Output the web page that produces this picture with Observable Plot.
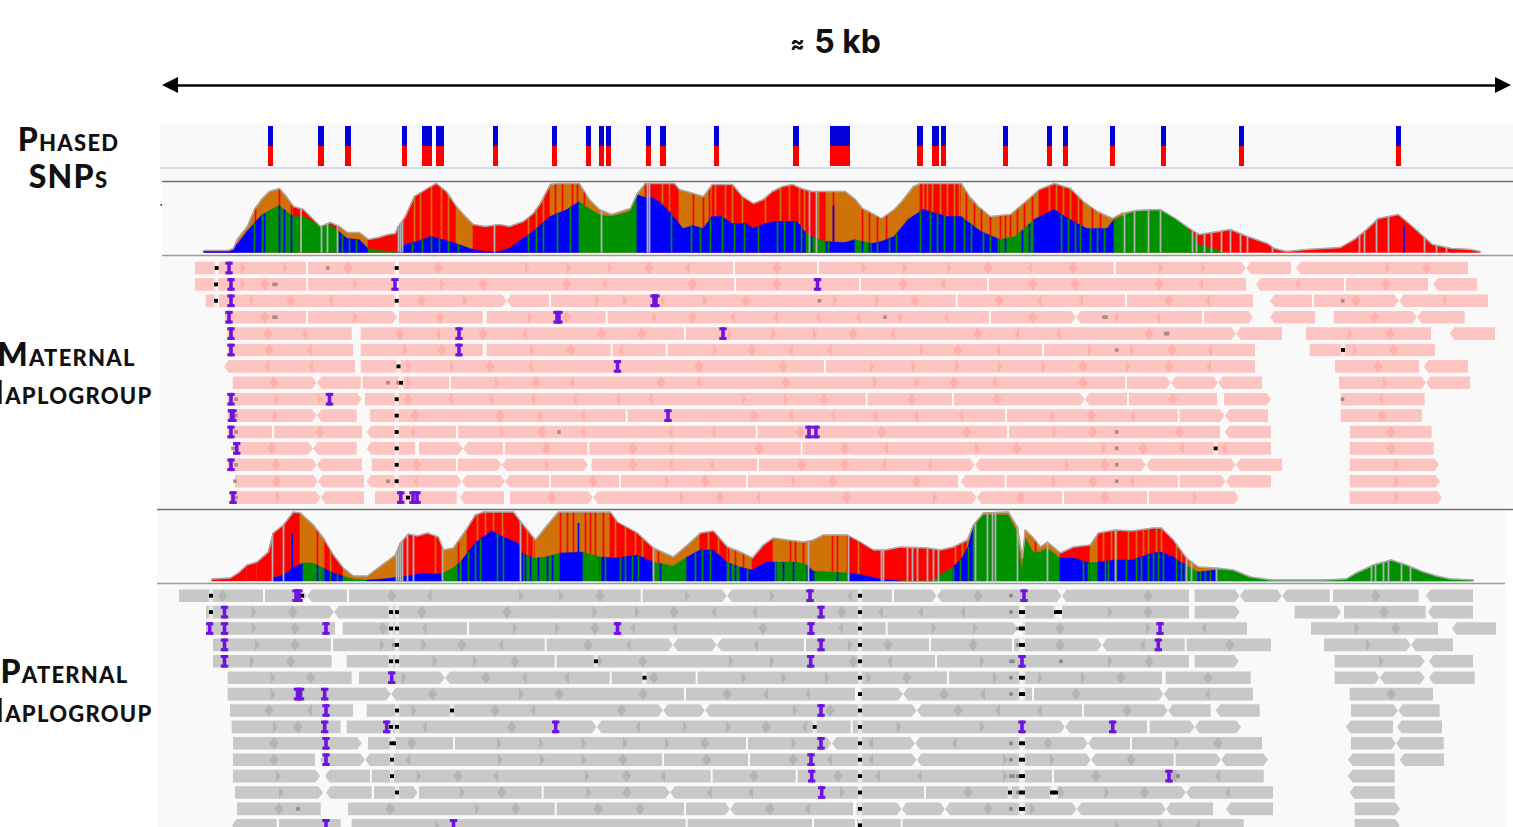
<!DOCTYPE html>
<html><head><meta charset="utf-8">
<style>html,body{margin:0;padding:0;background:#fff;overflow:hidden}svg{display:block}.lbl{letter-spacing:1.25px}</style>
<script src="https://cdn.jsdelivr.net/npm/d3@7"></script>
<script src="https://cdn.jsdelivr.net/npm/@observablehq/plot@0.6"></script>
</head><body><div id="c"></div>
<script>
const snpPositions=[[268,273],[318,324],[345,351],[402,407],[422,432],[436,444],[493,498],[552,557],[586,591],[599,604],[606,611],[646,651],[660,666],[714,719],[793,799],[830,850],[917,923],[932,939],[941,946],[1003,1008],[1047,1052],[1063,1068],[1110,1115],[1161,1166],[1239,1244],[1396,1401]];

// coverage track, maternal: total depth and lower band depth
const matTotalX=[204,228,233,237.5,247,254.5,262,269,279,286,293,303,310,320,330,339,347,359,368,378,388,395,398,405,414,427,436,446,456,465,473,485,499,509,523,533,540,550,557,579,589,599,611,630,637,645,674,679,693,703,712,732,742,753,763,772,782,792,801,811,826,845,855,862,872,881,894,903,913,920,961,969,978,990,1010,1022,1039,1054,1070,1083,1097,1112,1121,1136,1160,1175,1189,1199,1218,1230,1247,1267,1274,1286,1306,1340,1354,1364,1378,1398,1412,1432,1451,1470,1480];
const matTotalH=[2,2,4,14,26,44,54,61,64,56,46,43,36,26,30,26,20,20,13,15,18,19,26,36,56,64,69,61,46,36,28,26,28,26,31,39,49,68,69,69,53,43,38,44,59,69,69,63,59,56,68,68,56,49,53,61,66,68,64,61,61,61,53,44,39,34,43,53,66,69,69,56,46,36,38,48,63,69,64,51,41,34,39,42,43,34,24,18,21,23,16,9,4,1,3,5,13,21,34,38,26,8,4,3,1];
const matLowerX=[204,228,233,237,247,262,279,293,303,310,320,330,339,347,359,368,378,395,398,405,417,431,446,456,473,485,499,509,523,533,550,567,579,589,601,611,630,637,645,650,659,671,683,693,703,712,722,732,746,753,765,777,797,806,816,826,845,855,872,881,894,908,923,947,961,981,1000,1015,1034,1054,1073,1087,1107,1114,1136,1160,1175,1189,1199,1213,1223];
const matLowerH=[2,2,2,8,21,38,47,36,36,33,26,28,21,14,13,4,2,1,0,8,11,16,12,9,3,1,1,4,14,21,36,43,51,44,37,36,41,58,55,56,51,39,24,27,24,36,36,29,29,24,29,31,31,19,14,11,10,13,9,11,16,33,43,36,36,21,13,16,33,43,31,24,24,33,42,43,34,23,8,4,1];
const matUpperRuns=[[237,"r"],[293,"o"],[340,"r"],[368,"o"],[456,"r"],[473,"o"],[550,"r"],[645,"o"],[680,"r"],[712,"o"],[830,"r"],[920,"o"],[961,"r"],[1040,"o"],[1085,"r"],[1112,"o"],[1190,"o"],[1480,"r"]];
const matLowerRuns=[[262,"b"],[339,"g"],[368,"b"],[398,"g"],[582,"b"],[640,"g"],[806,"b"],[826,"g"],[850,"b"],[872,"g"],[1000,"b"],[1030,"g"],[1112,"b"],[1230,"g"]];
const matUpperFlips=[255,279,291,414,420,431,441,448,528,536,543,555,562,572,577,584,662,669,693,703,709,715,725,732,742,765,780,789,799,804,818,828,833,862,869,877,886,923,927,932,940,947,954,959,966,974,981,990,1000,1005,1010,1017,1024,1032,1049,1056,1063,1070,1078,1092,1100];
const matLowerFlips=[254,264,279,284,291,342,349,356,412,422,431,439,448,458,528,536,543,557,570,582,671,691,700,710,722,734,744,758,777,784,794,801,811,828,862,869,877,889,896,920,930,937,944,954,964,971,983,990,998,1005,1022,1029,1061,1068,1075,1080,1090,1097,1104];
const matGray=[300.5,321,327,337,398,400,402,494,601,647,649,809,816,1124,1134,1148,1160,1192,1196,1204,1211,1221,1230,1240,1247,1272,1359,1364,1376,1388,1424,1436,1446];
const matTall=[[833,47],[1403.5,26]];

// coverage track, paternal
const patTotalX=[212,230,238,246.7,256.7,268,273,283,293,300,313,323,333,343,353,367,383,395,400,408,417,427,438,443,453,467,475,483,513,523,535,547,558,610,617,637,653,673,687,700,713,727,740,752,763,773,787,803,813,823,847,860,873,885,900,927,940,953,967,973,983,1008,1017,1022,1025,1033,1040,1047,1060,1073,1090,1098,1115,1131,1153,1161,1173,1186,1198,1216,1233,1250,1271,1323,1346,1356,1373,1391,1406,1423,1436,1450,1473];
const patTotalH=[2,3,8,16,19,29,48,56,69,68,56,43,26,13,5,5,17,26,38,47,45,48,44,31,33,53,66,69,69,56,41,56,69,69,59,48,33,24,36,48,50,34,29,23,36,43,41,39,41,46,46,39,31,31,34,33,31,34,41,56,68,69,54,23,51,43,34,39,28,34,36,48,51,50,53,53,41,23,14,13,11,4,1,1,2,8,16,21,16,9,5,2,1];
const patLowerX=[273,283,293,303,313,323,333,343,353,367,383,407,423,438,443,453,462,475,483,492,503,518,522,533,545,560,583,600,617,637,653,673,687,700,713,727,740,752,767,777,797,807,813,830,850,867,880,900,933,940,953,962,968,973,983,1008,1017,1022,1025,1033,1040,1047,1060,1073,1090,1098,1115,1131,1153,1161,1173,1180,1186,1198,1216,1233,1250,1271,1323,1346,1356,1373,1391,1406,1423,1436,1450,1473];
const patLowerH=[3,6,13,18,18,13,8,5,2,1,2,5,8,7,8,13,21,38,44,50,44,38,28,23,24,28,29,24,23,26,19,15,24,31,31,19,14,11,19,19,19,16,10,9,8,5,2,0,0,6,14,23,34,54,66,66,49,9,44,29,29,33,23,23,18,19,21,21,28,29,24,19,16,9,11,11,4,1,1,2,8,16,21,16,9,5,2,1];
const patUpperRuns=[[300,"r"],[320,"o"],[345,"r"],[400,"o"],[443,"r"],[470,"o"],[535,"r"],[610,"o"],[653,"r"],[700,"o"],[727,"r"],[752,"o"],[777,"r"],[850,"o"],[967,"r"],[1060,"o"],[1090,"r"],[1100,"o"],[1190,"r"],[1240,"o"],[1480,"g"]];
const patLowerRuns=[[303,"b"],[320,"g"],[345,"b"],[360,"g"],[445,"b"],[462,"g"],[520,"b"],[560,"g"],[578,"b"],[597,"g"],[610,"b"],[617,"g"],[653,"b"],[672,"g"],[675,"b"],[687,"g"],[720,"b"],[745,"g"],[777,"b"],[803,"g"],[810,"b"],[850,"g"],[893,"b"],[950,"g"],[973,"b"],[1037,"g"],[1043,"b"],[1066,"g"],[1091,"b"],[1101,"g"],[1126,"b"],[1133,"g"],[1188,"b"],[1196,"g"],[1216,"b"],[1480,"g"]];
const patUpperFlips=[317,323,330,435,458,477,485,493,502,527,533,560,567,573,585,590,595,603,615,625,635,642,658,700,708,718,728,735,743,777,790,795,803,832,837,858,955,962,967,1035,1103,1111,1116,1128,1136,1143,1148,1156,1161,1176,1181];
const patLowerFlips=[317,323,330,337,458,468,475,480,497,503,522,525,530,538,547,552,600,605,612,620,625,632,638,660,687,695,702,710,730,735,747,775,783,793,813,837,953,960,968,1043,1083,1088,1105,1108,1116,1126,1136,1141,1148,1153,1158,1163,1176,1181,1185,1200,1205,1210];
const patGray=[272,283,396,398,400,402,407,413,442,520,653,808,848,881,883,907,912,917,927,933,938,975,987,992,995,1017,1047,1115,1186,1191,1216,1371,1375,1383,1388,1401,1410];
const patTall=[[291.7,48],[578,58]];

// reads: a/A start, e/E end (capital = pointed), | gap, > < d x seams between reads
const matRows=[
"a195 |217 >240.7 >283 |307 d348 |397 d438 >525 >566.7 >608 d649 <690 |734 d777 |818 >861.7 >903 >947 d988 <1032 d1073 |1114.7 >1159 >1201 x1246 e1291 A1296 >1386 d1427 e1468",
"a195 |217 >240.7 d265 |307 >353 E397 a399 >440 d483 d566.7 <606.7 d692.7 |735 d777 |860 d903 <945 |988 d1032.7 d1075 d1159 <1203 e1246 A1256 <1300 |1345 d1386 e1428 A1433 e1477",
"a205.7 |218 >250 d290.7 <333 |397 d421.7 >463 x506.7 |550 >595 >623 >661 >703 d746 >833 >875 d915 |956.7 d999 <1041.7 <1083 |1126 d1169 <1210 e1253 A1270 |1313 d1356 x1399 <1446 e1488",
"a225 d265 |307 >353 E397 a399 d440 e482.7 a486.7 >528 d566.7 |606.7 >652.7 d692.7 <735 <778 <820 <860 <901.7 <948 |990 d1032.7 x1076 <1118 <1160 |1203 E1253 A1270 e1315 a1333.7 d1374.7 x1417 e1464.7",
"a227.7 d268 <306.7 e351.7 a360.7 d400 <440 d483 <526.7 d601.7 d642 |685 >728 >771.7 >813 d853 <895 d978 <1019 <1060.7 d1149 x1236 e1282 a1306 >1348 d1390 e1431 A1449.7 e1495",
"a227.7 d269 <311.7 e353 a360.7 >403 d441.7 e482.7 a486.7 >530 d570.7 |611.7 <623 |666.7 >712.7 d751.7 <792.7 <831.7 >920 d958 <1000 |1043 >1088 >1130 d1172 <1212 e1255 a1309.7 >1353 d1393.7 e1435",
"A224 <269 <313 e355 a360.7 >406.7 >450 d490 <532.7 d699 d783 |825 >870 >911.7 >955 >998 >1041.7 d1083 >1126 d1169 <1211 e1255 a1335 d1378 e1419 A1423.7 e1468",
"a232.7 d274 x316.7 e360.7 a362.7 >406.7 |450 >495 d536 <574 d661 <700.7 d786 >873 >915 d954 <996.7 d1083 |1126 x1171 x1218 e1262 a1339 >1383 x1426 e1470",
"a227.7 >275 >318 E361.7 a365 d408 <452.7 <493 <535 <576.7 <620 <652.7 >741.7 >784 d824 |866.7 d911.7 |953 d997 x1084.7 |1128 d1173 e1217 a1224 E1271 a1341 <1383 e1424.7",
"a227.7 >273 x316.7 e356.7 a370 d415 d500 <541.7 <585 |626.7 d754 <793 <835 <877 <918 <963 |1006 >1050.7 d1091 <1134.7 |1178.7 x1224.7 e1268 a1340.7 d1382 e1422",
"a227.7 |273 d320 e362 A366.7 <415 |457 >500 d541.7 <585 <672.7 <715 |756.7 d800 d881.7 d966.7 |1008 >1052.7 d1093 d1179 e1220 A1224.7 e1271 a1349.7 d1391 e1431.7",
"a233 d271.7 x313 e356.7 A366.7 e415 a419 x463 |504 d546.7 |588.3 d633 <672.7 d759 |801.7 d845 <888 >975 d1016.7 >1102 d1143 <1183.7 <1226 e1271 a1349.7 d1391 e1433.7",
"a227.7 d276 x316.7 e362 a371.7 d416.7 |457 x501.7 >545 E588 a591.7 d633 <672.7 <714 |758 d801.7 d845 <886 <931.7 x975 >1065 d1104.7 x1146 x1235.7 e1282 a1349.7 >1394.7 E1439",
"a235 d276.7 x318 e364 A366.7 <418 x461.7 x505 |550 d593 |620 >665 d705 |747 >791.7 d832.7 d916.7 e958 A960.7 |1005.7 >1051.7 d1093 <1134 |1178.7 x1225.7 e1271 a1349.7 >1394.7 E1440",
"a230 >276 x320.7 e364 a375 e456.7 A460 e504 a510 d551.7 x593 >680 d720 <760 d846.7 >933 x976.7 d1020.7 |1063 d1104.7 |1148 >1193 E1239 a1349.7 >1394.7 E1442"];
const patRows=[
"a179 d222.7 |264 x307 |348 d391.7 <431.7 >519 >559 d600 |641.7 >685 x727 >770 <851.7 |893 x936.7 d978 x1061.7 d1148 e1189 a1194.7 x1239.7 x1282 e1329.7 a1333 d1375.7 e1418.7 A1426 e1473",
"a206 >251.7 d292.7 x334 d421.7 d507 >592.7 >635 d674 <716 <756.7 d841.7 <883 <923 <965 |1061 >1108 d1148 e1189 a1194.7 E1239.7 a1294.7 E1341 a1344 d1384 e1425.7 A1428 e1473",
"a206 >251.7 d295 e335 a342.7 d383 <426.7 |468 >513 >555 d595 <635 <676.7 d763 <843 |886.7 >931.7 >973 x1018 d1060 >1146 <1206 e1247 a1311 >1354.7 d1395.7 e1438 A1452 e1496",
"a213 >255 d295 |332 >380 >421.7 d461.7 <503 |545.7 d588 <630.7 x673 x716.7 <758 |805 >848 d888 |930 d973 |1013 d1060 x1102 <1144.7 |1185.7 d1229.7 e1271 a1324 >1366 x1411 e1453",
"a213 >250 d290.7 e331.7 a346.7 >432.7 >473 d515 |555.7 >598 d642.7 >729 >770 d853 <891.7 |936 >980 >1108 d1149 e1189 a1194.7 E1238.7 a1334.7 >1379 E1424.7 A1429 e1473",
"a227.7 >270.7 d310.7 e351.7 a359 >401.7 x445 d486 <526.7 <569 |610.7 d654 |696.7 >741.7 >781.7 >825 >866.7 d906.7 |948 >993 >1038 >1081 d1121 e1162 a1165.7 d1208 e1250.7 a1334.7 x1379.7 E1424.7 A1429 e1474.7",
"a227.7 >270.7 x391 d432.7 >519 d559 d643 |685 d727 <768 <810 e855 a860 x903 d944 <985 |1033 d1076 x1163.7 <1209.7 e1253 a1349.7 d1391 e1433",
"a230 d269 <312 e353 a366.7 >411.7 d495 <535 d621.7 x663 x705 >793 d830 x916.7 d958 <1000 <1041.7 |1083 d1127 x1168 e1210.7 A1215.7 e1259.7 a1351 x1398 e1439.7",
"a231.7 >273 d298 e340.7 a346.7 <426.7 d511.7 x596.7 <640 >683 >726 d766 <806.7 e850.7 a852.7 >896.7 >980 x1065 e1147 a1149.7 x1194.7 E1241 A1346 e1393 A1397 e1442",
"a233 d274 E361.7 a368 d411.7 |454 >497 >539 >581.7 >623 >665 d705 |747 >791.7 x831.7 <873 x915 <956.7 d1048 x1088 |1131 >1174.7 d1218 e1262 a1351 x1396 e1443.7",
"a233 d274 e315 A320 x365 <410 >498 >540 >581.7 d623 |663 d706.7 |749 d793 <831.7 <873 x916.7 >1003 >1050 x1091 d1131 |1174.7 x1221 E1268 A1348 e1394.7 A1399.7 e1444",
"a233 >276 E320 A325 e370 a371.7 >416.7 d458 <498 >585 d626.7 <665 |711.7 d754 |796.7 d838 <880 <921.7 >1003 |1053 d1096 d1175 <1219.7 e1263.7 A1348 e1394.7",
"a235 >279 E323 A326 e371.7 a374 E417.7 a419 >460 d501.7 |542.7 >586.7 d627 x670 <711.7 <753 >840 |925 d968 d1060 >1104.7 d1144.7 x1186 <1229.7 e1273 A1349.7 e1394.7",
"a237 d279 e320.7 a348 d390 >475 d515.7 |555.7 d598 d640 |685 x730 d770 <810 e853 a856.7 x901.7 x945 d988 >1030 x1076.7 x1166 e1213 A1226 e1273 a1354.7 E1400",
"A232 e276.7 a279 e340.7 a351.7 >435 |686.7 |813 |856 |901.7 >1114.7 >1158 <1200 e1243.7 a1354.7 E1399.7"];

// read-level marks as [position, row]
const matPurple=[[229,0],[231,1],[395,1],[817.5,1],[231,2],[654,2],[656,2],[229,3],[557,3],[559,3],[231,4],[459,4],[723,4],[231,5],[459,5],[617.5,6],[231,8],[329.5,8],[231.5,9],[233,9],[668,9],[231,10],[809,10],[816,10],[236.7,11],[231,12],[233,14],[400.7,14],[413,14],[417,14]];
const matBlack=[[216.7,0],[396.7,0],[216,1],[216,2],[396.7,2],[398.5,6],[401,7],[396.7,8],[396.7,9],[396.7,10],[396.7,11],[396.7,12],[396.7,13],[408,14],[1343,5],[1215.7,11]];
const matDim=[[327.7,0],[274,1],[276,1],[819.5,2],[1342.7,2],[274,3],[276,3],[885,3],[1104,3],[1106,3],[1165.7,4],[1167.7,4],[1116.7,5],[388,7],[398,7],[236,8],[1342.5,8],[236,9],[236,10],[559,10],[1116.7,10],[233,11],[1116.7,11],[236,12],[1116.7,12],[388,13],[235,13],[1116.7,13],[236,14]];
const patPurple=[[296,0],[299,0],[810,0],[1024,0],[224.5,1],[821,1],[209.7,2],[224.5,2],[326,2],[617.5,2],[811,2],[1160,2],[224.5,3],[821,3],[1158.3,3],[224.5,4],[810.7,4],[1022,4],[391.7,5],[297.5,6],[300.5,6],[324.7,6],[326,7],[821,7],[324.7,8],[386.7,8],[555.7,8],[1022,8],[1112.7,8],[326,9],[821,9],[326,10],[811,10],[811.7,11],[1169,11],[821.7,12],[326,14],[453.5,14]];
const patBlack=[[211,0],[302,0],[211,1],[391,1],[397,1],[391,2],[397,2],[397,3],[391,4],[397,4],[596,4],[644.5,5],[397,7],[452,7],[391,8],[397,8],[814.7,8],[391.5,9],[394,9],[392,10],[392,11],[397,12],[860,0],[860,1],[860,2],[860,3],[860,4],[860,5],[860,6],[860,7],[860,8],[860,9],[860,10],[860,11],[860,12],[860,13],[860,14],[1021,1],[1023,1],[1021,2],[1023,2],[1021,3],[1023,3],[1021,5],[1023,5],[1021,6],[1023,6],[1021,9],[1023,9],[1021,10],[1023,10],[1021,11],[1023,11],[1021,12],[1023,12],[1021,13],[1023,13],[1056,1],[1058,1],[1060,1],[1052,12],[1054,12],[1056,12],[1010,12]];
const patDim=[[1011,0],[1011,1],[1018,2],[1018,3],[1011,4],[1013,4],[1061,4],[1011,5],[1011,6],[1011,9],[1011,10],[1011,11],[1013,11],[1018,11],[1018,12],[1011,13],[394,3],[298,13],[1178,11]];

const labelsCentered=[["Phased",68,140],["SNPs",68,177],["Maternal",66,355],["Paternal",64,672]];
const labelsRight=[["Haplogroup",152,393],["Haplogroup",152,711]];

const palette={r:"#ff0000",o:"#cf7208",b:"#0000ff",g:"#009000"};
const flip={r:"o",o:"r",b:"g",g:"b"};
const runColor=(runs,x)=>{for(const [e,c] of runs) if(x<=e) return c; return runs[runs.length-1][1];};
const lookup=(xs,hs,x)=>{const i=d3.bisectRight(xs,x);if(i<=0)return hs[0];if(i>=xs.length)return hs[hs.length-1];const t=(x-xs[i-1])/(xs[i]-xs[i-1]);return hs[i-1]+t*(hs[i]-hs[i-1]);};
const segments=(xs,hs,runs)=>{const out=[];for(let i=0;i<xs.length-1;i++){const c=palette[runColor(runs,(xs[i]+xs[i+1])/2)];out.push({id:i,x:xs[i],h:hs[i],c},{id:i,x:xs[i+1],h:hs[i+1],c});}return out;};

const T=4.6,HALF=6.3,SOFT="blur(0.45px)";
function parseRow(s,row){
  const reads=[];let cur=null;const start=(x,tip)=>{cur=tip?{row,l:x,bl:x+T}:{row,l:x,bl:x};};
  const end=(x,tip)=>{cur.br=tip?x-T:x;cur.r=x;reads.push(cur);cur=null;};
  for(const tk of s.split(" ")){const k=tk[0],x=+tk.slice(1);
    if(k==="a")start(x,false);else if(k==="A")start(x,true);
    else if(k==="e")end(x,false);else if(k==="E")end(x,true);
    else if(k==="|"){end(x-1,false);start(x+1,false);}
    else if(k===">"){end(x+T,true);start(x,false);}
    else if(k==="<"){end(x,false);start(x-T,true);}
    else if(k==="d"){end(x+T,true);start(x-T,true);}
    else if(k==="x"){end(x-.2,true);start(x+.2,true);}
  }
  return reads;
}
function readPts(rows,cy){const pts=[];let id=0;rows.forEach((s,r)=>{for(const d of parseRow(s,r)){const c=cy(r);id++;
  if(d.l<d.bl)pts.push({id,x:d.l,a:c,b:c});
  pts.push({id,x:d.bl,a:c-HALF,b:c+HALF},{id,x:d.br,a:c-HALF,b:c+HALF});
  if(d.r>d.br)pts.push({id,x:d.r,a:c,b:c});
}});return pts;}

const matY=r=>268+16.4*r, patY=r=>595.7+16.4*r;

function coverage(base,tx,th,lx,lh,ur,lr,uf,lf,gray,tall){
  const total=x=>lookup(tx,th,x),lower=x=>lookup(lx,lh,x);
  const f=SOFT;
  return [
    Plot.areaY(segments(tx,th,ur),{x:"x",y1:base,y2:d=>base-d.h,z:"id",fill:{value:"c",scale:null},stroke:{value:"c",scale:null},strokeWidth:.4,imageFilter:f}),
    Plot.ruleX(uf,{x:d=>d,y1:d=>base-Math.min(total(d),lower(d)),y2:d=>base-total(d),stroke:{value:d=>palette[flip[runColor(ur,d)]],scale:null},strokeWidth:1.7,imageFilter:f}),
    Plot.areaY(segments(lx,lh,lr),{x:"x",y1:base,y2:d=>base-d.h,z:"id",fill:{value:"c",scale:null},stroke:{value:"c",scale:null},strokeWidth:.4,imageFilter:f}),
    Plot.ruleX(lf,{x:d=>d,y1:base,y2:d=>base-lower(d),stroke:{value:d=>palette[flip[runColor(lr,d)]],scale:null},strokeWidth:1.7,imageFilter:f}),
    Plot.ruleX(tall,{x:d=>d[0],y1:base,y2:d=>base-d[1],stroke:"#0000ff",strokeWidth:1.7,imageFilter:f}),
    Plot.ruleX(gray,{x:d=>d,y1:base,y2:d=>base-total(d),stroke:"#b2b2b2",strokeWidth:1.8,imageFilter:f}),
    Plot.line(tx.map((x,i)=>({x,h:th[i]})),{x:"x",y:d=>base-d.h-.5,stroke:"#a8a8a8",strokeWidth:1.4,imageFilter:f})
  ];
}
function readMarks(rows,cy,fill,dimColor,purple,black,dim){
  const P="#6f14e0",f=SOFT;
  return [
    Plot.areaY(readPts(rows,cy),{x:"x",y1:"a",y2:"b",z:"id",fill,fillOpacity:.6,imageFilter:f}),
    Plot.rect(black,{x1:d=>d[0]-2.2,x2:d=>d[0]+2.2,y1:d=>cy(d[1])-HALF,y2:d=>cy(d[1])+HALF,fill:"#fff",fillOpacity:.55,imageFilter:f}),
    Plot.rect(dim,{x1:d=>d[0]-1.8,x2:d=>d[0]+1.8,y1:d=>cy(d[1])-1.8,y2:d=>cy(d[1])+1.8,fill:dimColor,imageFilter:f}),
    Plot.rect(black,{x1:d=>d[0]-2,x2:d=>d[0]+2,y1:d=>cy(d[1])-1.9,y2:d=>cy(d[1])+1.9,fill:"#000",imageFilter:f}),
    Plot.rect(purple,{x1:d=>d[0]-3.7,x2:d=>d[0]+3.7,y1:d=>cy(d[1])-6.3,y2:d=>cy(d[1])-3.3,fill:P,imageFilter:f}),
    Plot.rect(purple,{x1:d=>d[0]-3.7,x2:d=>d[0]+3.7,y1:d=>cy(d[1])+3.3,y2:d=>cy(d[1])+6.3,fill:P,imageFilter:f}),
    Plot.rect(purple,{x1:d=>d[0]-1.8,x2:d=>d[0]+1.8,y1:d=>cy(d[1])-6.3,y2:d=>cy(d[1])+6.3,fill:P,imageFilter:f})
  ];
}
const bg=(x1,x2,y1,y2,fill)=>Plot.rect([0],{x1:()=>x1,x2:()=>x2,y1:()=>y1,y2:()=>y2,fill});
const hline=(y,x1,x2,stroke,w)=>Plot.ruleY([y],{x1:()=>x1,x2:()=>x2,stroke,strokeWidth:w});
const font="Inter, Lato, sans-serif", labelFont="Lato, 'Open Sans', sans-serif";

const chart=Plot.plot({
  width:1513,height:827,margin:0,
  x:{domain:[0,1513],range:[0,1513],axis:null},
  y:{domain:[0,827],range:[0,827],axis:null},
  style:{background:"#fff"},
  marks:[
    bg(160,1513,124,180,"#f9f9f9"),
    bg(162,1513,182,256,"#f9f9f9"),
    bg(160,1513,256,508,"#f9f9f9"),
    bg(157,1505,509,827,"#f9f9f9"),
    bg(160.5,162,204,206,"#444"),
    hline(167.5,160,1513,"#cfcfdf",1.6),
    hline(181,162,1513,"#6e6e6e",1.6),
    hline(255,162,1513,"#9a9a9a",1.6),
    hline(509,157,1513,"#6e6e6e",1.6),
    hline(583,157,1505,"#9a9a9a",1.6),
    Plot.rect(snpPositions,{x1:d=>d[0],x2:d=>d[1],y1:()=>126,y2:()=>146,fill:"#0000d8"}),
    Plot.rect(snpPositions,{x1:d=>d[0],x2:d=>d[1],y1:()=>146,y2:()=>166,fill:"#ff0000"}),
    ...coverage(252.5,matTotalX,matTotalH,matLowerX,matLowerH,matUpperRuns,matLowerRuns,matUpperFlips,matLowerFlips,matGray,matTall),
    ...coverage(581,patTotalX,patTotalH,patLowerX,patLowerH,patUpperRuns,patLowerRuns,patUpperFlips,patLowerFlips,patGray,patTall),
    ...readMarks(matRows,matY,"#ffa29d","#a88a88",matPurple,matBlack,matDim),
    ...readMarks(patRows,patY,"#a7a7a7","#8a8a8a",patPurple,patBlack,patDim),
    // scale arrow
    Plot.ruleY([85],{x1:()=>170,x2:()=>1503,stroke:"#000",strokeWidth:2.6}),
    Plot.areaY([{x:162,a:85,b:85},{x:178,a:77,b:93}],{x:"x",y1:"a",y2:"b",fill:"#000"}),
    Plot.areaY([{x:1495,a:77,b:93},{x:1511,a:85,b:85}],{x:"x",y1:"a",y2:"b",fill:"#000"}),
    Plot.text(["≈"],{x:()=>797,y:()=>44,text:d=>d,fontSize:21,fontWeight:800,fontFamily:font,fill:"#111"}),
    Plot.text(["5 kb"],{x:()=>847,y:()=>42,text:d=>d,fontSize:32,fontWeight:700,fontFamily:font,fill:"#111"}),
    Plot.text(labelsCentered,{x:d=>d[1],y:d=>d[2],text:d=>d[0],textAnchor:"middle",fontSize:32,fontWeight:900,fontFamily:labelFont,fontVariant:"small-caps",fill:"#111",className:"lbl"}),
    Plot.text(labelsRight,{x:d=>d[1],y:d=>d[2],text:d=>d[0],textAnchor:"end",fontSize:32,fontWeight:900,fontFamily:labelFont,fontVariant:"small-caps",fill:"#111",className:"lbl"})
  ]
});
document.getElementById("c").appendChild(chart);
</script></body></html>
